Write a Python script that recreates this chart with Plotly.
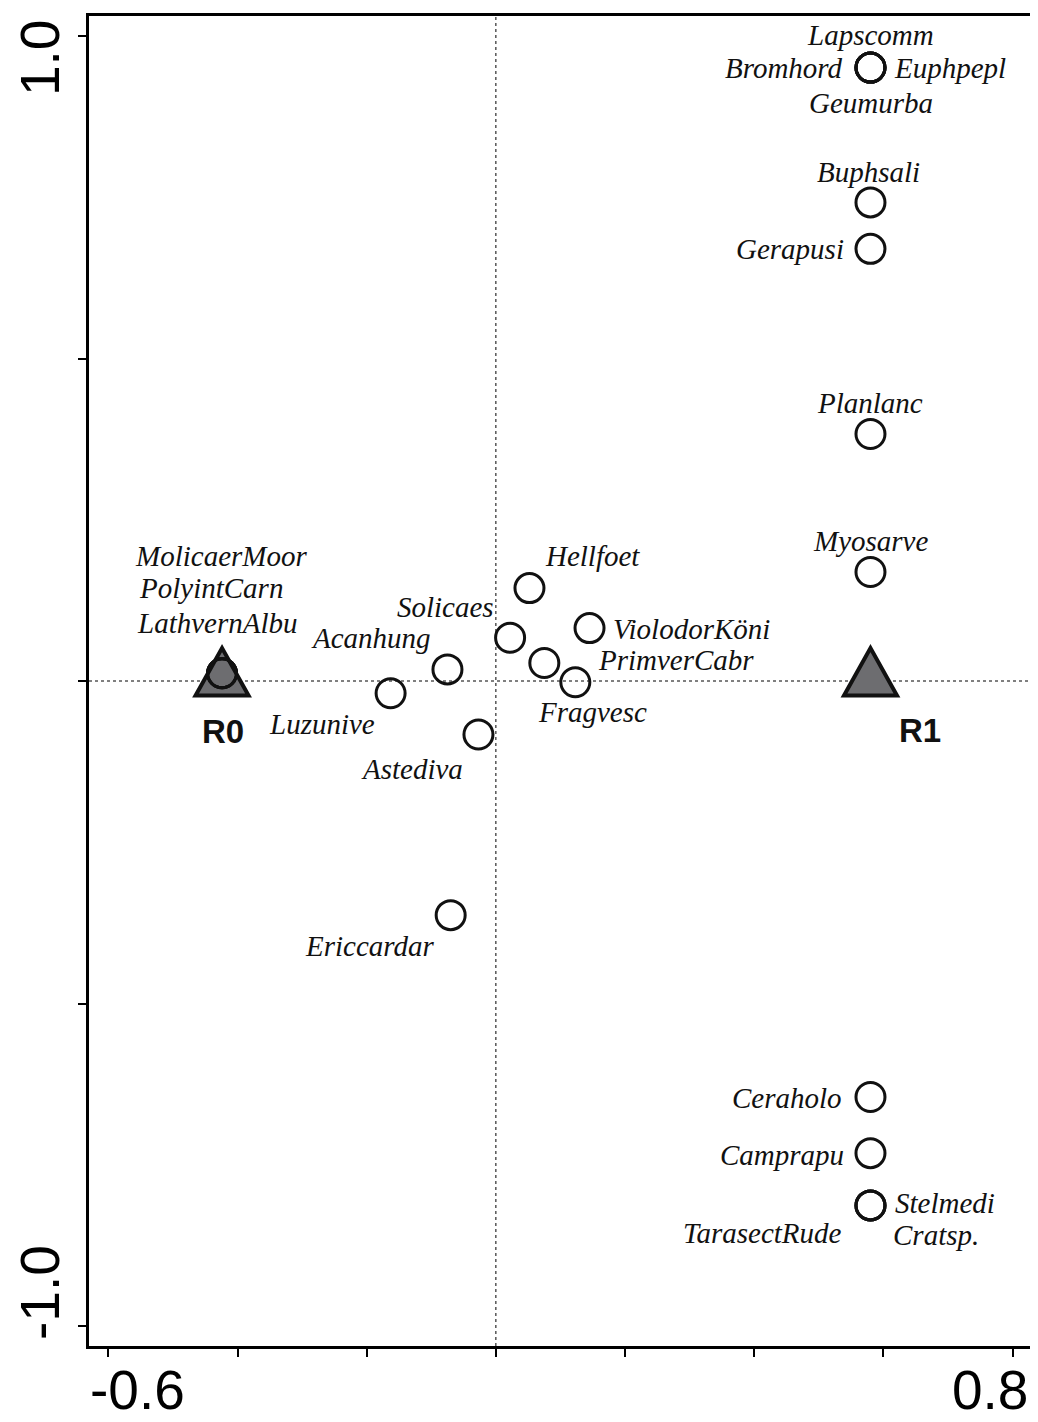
import plotly.graph_objects as go

# ---------------- data ----------------
species = ["Lapscomm", "Bromhord", "Euphpepl", "Geumurba", "Buphsali", "Gerapusi",
           "Planlanc", "Myosarve", "Hellfoet", "Solicaes", "Acanhung", "ViolodorKöni",
           "PrimverCabr", "Fragvesc", "Luzunive", "Astediva", "Ericcardar",
           "Ceraholo", "Camprapu", "Stelmedi", "TarasectRude", "Cratsp.",
           "MolicaerMoor", "PolyintCarn", "LathvernAlbu"]
species_x = [0.580, 0.580, 0.580, 0.580, 0.580, 0.580,
             0.580, 0.580, 0.052, 0.022, -0.075, 0.145,
             0.075, 0.123, -0.163, -0.027, -0.070,
             0.580, 0.580, 0.580, 0.580, 0.580,
             -0.424, -0.424, -0.424]
species_y = [0.951, 0.951, 0.951, 0.951, 0.742, 0.670,
             0.383, 0.169, 0.144, 0.067, 0.018, 0.082,
             0.028, -0.002, -0.019, -0.083, -0.363,
             -0.645, -0.732, -0.813, -0.813, -0.813,
             0.012, 0.012, 0.012]

treatments = ["R0", "R1"]
treat_x = [-0.424, 0.580]
treat_y = [0.0, 0.0]

x_ticks = [-0.6, -0.4, -0.2, 0.0, 0.2, 0.4, 0.6, 0.8]
x_tick_labels = ["-0.6", "", "", "", "", "", "", "0.8"]
y_ticks = [-1.0, -0.5, 0.0, 0.5, 1.0]
y_tick_labels = ["-1.0", "", "", "", "1.0"]

# ---------------- styles (label placement in pixels) ----------------
label_style = {
    "Lapscomm": ("center", 0, 33), "Bromhord": ("right", -25, 0),
    "Euphpepl": ("left", 22, 0), "Geumurba": ("center", 1, -35),
    "Buphsali": ("center", -2, 30), "Gerapusi": ("right", -24, 0),
    "Planlanc": ("center", 0, 31), "Myosarve": ("center", 0, 31),
    "Hellfoet": ("left", 14, 32), "Solicaes": ("right", -14, 31),
    "Acanhung": ("right", -14, 31), "ViolodorKöni": ("left", 21, -1),
    "PrimverCabr": ("left", 52, 3), "Fragvesc": ("center", 17, -30),
    "Luzunive": ("right", -14, -31), "Astediva": ("right", -13, -34),
    "Ericcardar": ("right", -14, -31), "Ceraholo": ("right", -26, -1),
    "Camprapu": ("right", -24, -2), "Stelmedi": ("left", 23, 2),
    "TarasectRude": ("right", -26, -28), "Cratsp.": ("left", 21, -30),
    "MolicaerMoor": ("left", -89, 117), "PolyintCarn": ("left", -85, 85),
    "LathvernAlbu": ("left", -87, 50),
}
treat_label_shift = {"R0": (1, -50), "R1": (50, -49)}
x_label_shift = {"-0.6": 29, "0.8": -23}
y_label_shift = {"-1.0": 33, "1.0": -22}
AXIS_LABEL_SIZE = 55

SERIF = "Liberation Serif"
SANS = "Liberation Sans"
INK = "#111111"

fig = go.Figure()

# species points (open circles)
fig.add_trace(go.Scatter(
    x=species_x, y=species_y, mode="markers", text=species,
    hoverinfo="text",
    marker=dict(symbol="circle", size=29, color="rgba(0,0,0,0)",
                line=dict(color=INK, width=3)),
    showlegend=False,
))

shapes = []
# dotted zero lines
shapes.append(dict(type="line", xref="x", yref="paper", x0=0, x1=0, y0=0, y1=1,
                   line=dict(color="black", width=1, dash="dot"), layer="below"))
shapes.append(dict(type="line", xref="paper", yref="y", x0=0, x1=1, y0=0, y1=0,
                   line=dict(color="black", width=1, dash="dot"), layer="below"))
# treatment triangles anchored at data coordinates
for tx, ty in zip(treat_x, treat_y):
    shapes.append(dict(type="path", xref="x", yref="y",
                       xsizemode="pixel", ysizemode="pixel",
                       xanchor=tx, yanchor=ty,
                       path="M -26.5,-14.5 L 26.5,-14.5 L 0,33 Z",
                       fillcolor="#6d6d70", line=dict(color=INK, width=4),
                       layer="below"))

annotations = []
for name, sx, sy in zip(species, species_x, species_y):
    anc, dx, dy = label_style[name]
    annotations.append(dict(x=sx, y=sy, xref="x", yref="y", text=name,
                            showarrow=False, xanchor=anc, yanchor="middle",
                            xshift=dx, yshift=dy,
                            font=dict(family=SERIF, size=29, color=INK, style="italic")))
for name, tx, ty in zip(treatments, treat_x, treat_y):
    dx, dy = treat_label_shift[name]
    annotations.append(dict(x=tx, y=ty, xref="x", yref="y", text="<b>%s</b>" % name,
                            showarrow=False, xanchor="center", yanchor="middle",
                            xshift=dx, yshift=dy,
                            font=dict(family=SANS, size=33, color=INK)))
# axis tick labels
for v, lab in zip(x_ticks, x_tick_labels):
    if lab:
        annotations.append(dict(x=v, y=0, xref="x", yref="paper", text=lab,
                                showarrow=False, xanchor="center", yanchor="middle",
                                xshift=x_label_shift[lab], yshift=-44,
                                font=dict(family=SANS, size=AXIS_LABEL_SIZE, color="black")))
for v, lab in zip(y_ticks, y_tick_labels):
    if lab:
        annotations.append(dict(x=0, y=v, xref="paper", yref="y", text=lab,
                                showarrow=False, xanchor="center", yanchor="middle",
                                xshift=-49, yshift=y_label_shift[lab], textangle=-90,
                                font=dict(family=SANS, size=AXIS_LABEL_SIZE, color="black")))

axis_common = dict(showline=True, linecolor="black", linewidth=3, mirror=True,
                   ticks="outside", ticklen=8, tickwidth=2, tickcolor="black",
                   showgrid=False, zeroline=False, showticklabels=False)

# the page body adds an 8px offset, so the figure is 8px smaller on each axis
fig.update_layout(
    width=1030, height=1414,
    margin=dict(l=81, r=5, t=5, b=76),
    paper_bgcolor="white", plot_bgcolor="white",
    xaxis=dict(range=[-0.630, 0.827], tickvals=x_ticks, ticktext=x_tick_labels, **axis_common),
    yaxis=dict(range=[-1.031, 1.031], tickvals=y_ticks, ticktext=y_tick_labels, **axis_common),
    shapes=shapes,
    annotations=annotations,
    showlegend=False,
)

fig.write_html("out.html")
